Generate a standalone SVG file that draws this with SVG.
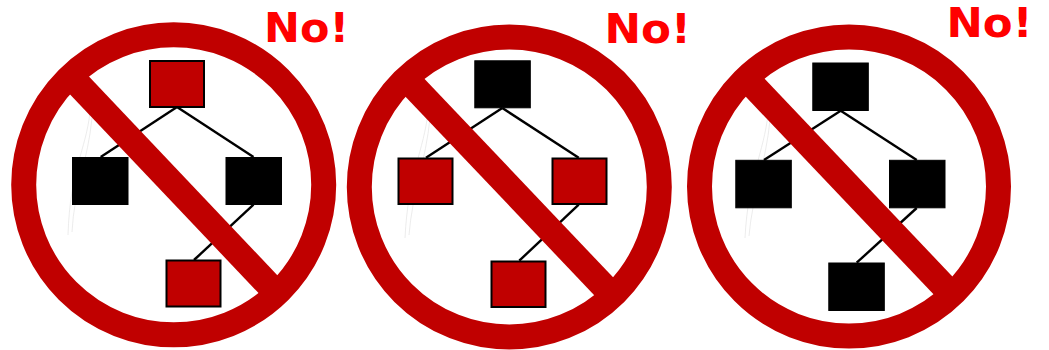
<svg xmlns="http://www.w3.org/2000/svg" width="1049" height="350" viewBox="0 0 1049 350">
<style>
.ring{fill:none;stroke:#c00000;stroke-width:25}
.bar{stroke:#c00000;stroke-width:26;stroke-linecap:butt}
.edge{stroke:#000;stroke-width:2.4;fill:none}
.red{fill:#c00000;stroke:#000;stroke-width:2}
.blk{fill:#000;stroke:#000;stroke-width:1}
.no{font-family:"DejaVu Sans",sans-serif;font-weight:bold;font-size:40px;fill:#ff0000}
.faint{fill:none;stroke:#e4e4e4;stroke-width:0.7}
</style>
<rect width="1049" height="350" fill="#fff"/>
<g id="panel1">
<path class="faint" d="M90 112 C86 150 70 170 68 235 M92 118 C88 160 74 190 72 232"/>
<g id="connectors1">
<line class="edge" x1="177" y1="107" x2="100.7" y2="157"/>
<line class="edge" x1="177" y1="107" x2="253.5" y2="157"/>
<line class="edge" x1="253.5" y1="204.7" x2="194" y2="260"/>
</g>
<g id="p1-top"><rect class="red" x="150" y="61" width="54" height="46"/></g>
<g id="p1-left"><rect class="blk" x="72.5" y="157.5" width="55.5" height="47"/></g>
<g id="p1-right"><rect class="blk" x="226" y="157.5" width="55.5" height="47"/></g>
<g id="p1-bottom"><rect class="red" x="166.5" y="260.5" width="54" height="46"/></g>
<circle class="ring" cx="173.7" cy="184.8" r="150"/>
<line class="bar" x1="70.5" y1="76" x2="276.9" y2="293.6"/>
<text class="no" x="264" y="41.7" textLength="85" lengthAdjust="spacingAndGlyphs">No!</text>
</g>
<g id="panel2">
<path class="faint" d="M428 112 C424 150 408 175 405 238 M430 118 C426 160 412 195 409 235"/>
<g id="connectors2">
<line class="edge" x1="502.3" y1="108" x2="426" y2="157.7"/>
<line class="edge" x1="502.3" y1="108" x2="578.7" y2="157.7"/>
<line class="edge" x1="578.7" y1="204.7" x2="519.3" y2="260.7"/>
</g>
<g id="p2-top"><rect class="blk" x="474.8" y="60.8" width="55.5" height="47"/></g>
<g id="p2-left"><rect class="red" x="398.5" y="158.5" width="54" height="45.5"/></g>
<g id="p2-right"><rect class="red" x="552.5" y="158.5" width="54" height="45.5"/></g>
<g id="p2-bottom"><rect class="red" x="491.5" y="261.5" width="54" height="45.5"/></g>
<circle class="ring" cx="509.3" cy="187" r="150"/>
<line class="bar" x1="405.9" y1="78.2" x2="612.7" y2="295.8"/>
<text class="no" x="604.5" y="43.3" textLength="86.5" lengthAdjust="spacingAndGlyphs">No!</text>
</g>
<g id="panel3">
<path class="faint" d="M768 114 C764 152 748 178 745 238 M770 120 C766 162 752 198 749 236"/>
<g id="connectors3">
<line class="edge" x1="840.7" y1="110.7" x2="764" y2="160"/>
<line class="edge" x1="840.7" y1="110.7" x2="916.7" y2="160"/>
<line class="edge" x1="916.7" y1="208" x2="856.7" y2="262.7"/>
</g>
<g id="p3-top"><rect class="blk" x="812.8" y="63" width="55.5" height="47.5"/></g>
<g id="p3-left"><rect class="blk" x="735.8" y="160.3" width="55.5" height="47.5"/></g>
<g id="p3-right"><rect class="blk" x="889.5" y="160.3" width="55.5" height="47.5"/></g>
<g id="p3-bottom"><rect class="blk" x="828.8" y="263" width="55.5" height="47.5"/></g>
<circle class="ring" cx="849" cy="186.5" r="149.5"/>
<line class="bar" x1="745.8" y1="77.9" x2="952.2" y2="295.1"/>
<text class="no" x="946.5" y="37.3" textLength="86" lengthAdjust="spacingAndGlyphs">No!</text>
</g>
</svg>
